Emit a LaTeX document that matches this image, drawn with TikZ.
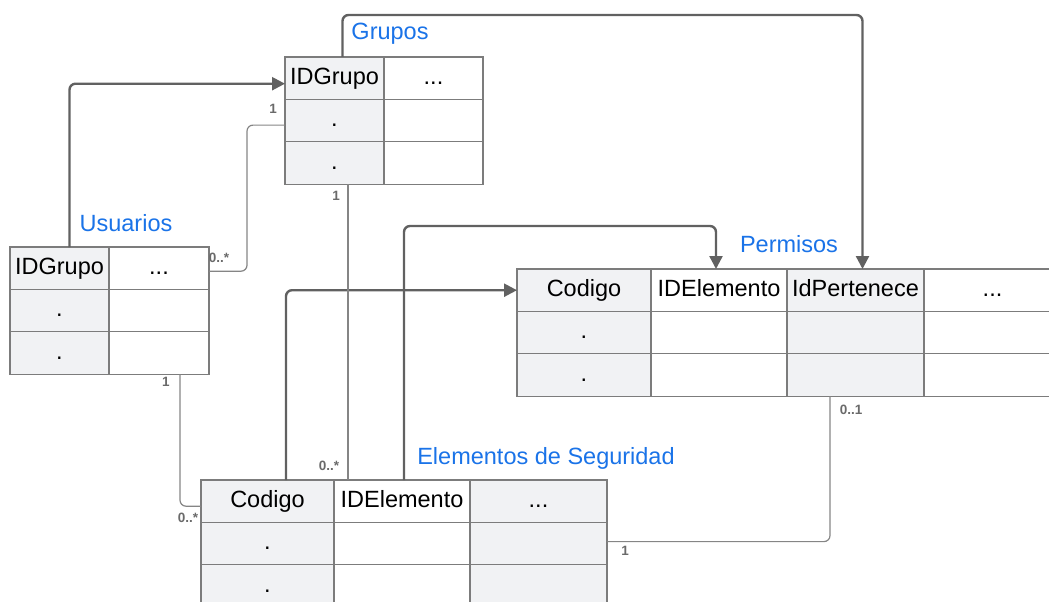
\documentclass[tikz,border=0pt]{standalone}
\usepackage{fontspec}
\setmainfont{Liberation Sans}
\usetikzlibrary{arrows.meta,calc}

\definecolor{cellgray}{HTML}{F1F2F4}
\definecolor{gridline}{HTML}{7C7C7C}
\definecolor{linkdark}{HTML}{616161}
\definecolor{linklight}{HTML}{858585}
\definecolor{titleblue}{HTML}{1A73E8}
\definecolor{cardgray}{HTML}{6A6A6A}

\tikzset{
  cell/.style={draw=gridline, line width=1.2pt, anchor=north west, inner sep=0pt,
    outer sep=0pt, fill=white, font=\fontsize{23.5}{27}\selectfont,
    text height=16.9pt, text depth=4.9pt, minimum height=42.4pt},
  key/.style={cell, fill=cellgray},
  wA/.style={minimum width=99pt},
  wB/.style={minimum width=100pt},
  wC/.style={minimum width=134pt},
  wD/.style={minimum width=136pt},
  wE/.style={minimum width=137pt},
  title/.style={text=titleblue, font=\fontsize{23.5}{27}\selectfont, inner sep=0pt},
  card/.style={text=cardgray, font=\bfseries\fontsize{13.5}{16}\selectfont, inner sep=0pt},
  fk/.style={draw=linkdark, line width=2.4pt, rounded corners=6pt,
    -{Triangle[length=13pt,width=13pt]}},
  rel/.style={draw=linklight, line width=1.2pt, rounded corners=6pt},
}

\begin{document}
\begin{tikzpicture}[x=1pt, y=-1pt]
\useasboundingbox (0,0) rectangle (1049,602);
\clip (0,0) rectangle (1049,602);

% Grupos
\node[key, wA]  (g11) at (285,57)    {IDGrupo};
\node[cell, wA] (g12) at (384,57)    {...};
\node[key, wA]  (g21) at (285,99.4)  {.};
\node[cell, wA] (g22) at (384,99.4)  {};
\node[key, wA]  (g31) at (285,141.8) {.};
\node[cell, wA] (g32) at (384,141.8) {};

% Usuarios
\node[key, wA]  (u11) at (10,247)    {IDGrupo};
\node[cell, wB] (u12) at (109,247)   {...};
\node[key, wA]  (u21) at (10,289.4)  {.};
\node[cell, wB] (u22) at (109,289.4) {};
\node[key, wA]  (u31) at (10,331.8)  {.};
\node[cell, wB] (u32) at (109,331.8) {};

% Permisos
\node[key, wC]  (p11) at (517,269)   {Codigo};
\node[cell, wD] (p12) at (651,269)   {IDElemento};
\node[key, wE]  (p13) at (787,269)   {IdPertenece};
\node[cell, wE] (p14) at (924,269)   {...};
\node[key, wC]  (p21) at (517,311.4) {.};
\node[cell, wD] (p22) at (651,311.4) {};
\node[key, wE]  (p23) at (787,311.4) {};
\node[cell, wE] (p24) at (924,311.4) {};
\node[key, wC]  (p31) at (517,353.8) {.};
\node[cell, wD] (p32) at (651,353.8) {};
\node[key, wE]  (p33) at (787,353.8) {};
\node[cell, wE] (p34) at (924,353.8) {};

% Elementos de Seguridad
\node[key, minimum width=133pt]  (e11) at (201,480)   {Codigo};
\node[cell, wD]                  (e12) at (334,480)   {IDElemento};
\node[key, wE]                   (e13) at (470,480)   {...};
\node[key, minimum width=133pt]  (e21) at (201,522.4) {.};
\node[cell, wD]                  (e22) at (334,522.4) {};
\node[key, wE]                   (e23) at (470,522.4) {};
\node[key, minimum width=133pt]  (e31) at (201,564.8) {.};
\node[cell, wD]                  (e32) at (334,564.8) {};
\node[key, wE]                   (e33) at (470,564.8) {};

% table titles
\node[title] (tg) at (390,34)  {Grupos};
\node[title] (tu) at (126,223) {Usuarios};
\node[title] (tp) at (789,244) {Permisos};
\node[title] (te) at (546,458) {Elementos de Seguridad};

% foreign-key arrows
\draw[fk] ($(u11.north)+(10,0)$) |- ($(g11.west)+(0,5.5)$);
\draw[fk] ($(g11.north)+(8,0)$) -- ++(0,-42) -| ($(p13.north)+(7,0)$);
\draw[fk] ($(e12.north)+(2,0)$) -- ++(0,-254) -| ($(p12.north)+(-3,0)$);
\draw[fk] ($(e11.north)+(18.5,0)$) |- (p11.west);

% relationship lines
\coordinate (r1a) at ($(g21.west)+(0,4.5)$);
\coordinate (r1b) at ($(u12.east)+(0,3)$);
\draw[rel] (r1a) -| ($(r1a)!.5!(r1b)$) |- (r1b);
\coordinate (r2a) at ($(g31.south)+(13.5,0)$);
\draw[rel] (r2a) -- (r2a |- e11.north);
\draw[rel] ($(u32.south)+(21,0)$) |- ($(e11.west)+(0,5)$);
\draw[rel] ($(e23.east)+(0,-2)$) -| ($(p33.south)+(-25.5,0)$);

% cardinalities
\node[card] (c1) at (273,109) {1};
\node[card] (c2) at (219,258) {0..*};
\node[card] (c3) at (336,196) {1};
\node[card] (c4) at (329,466) {0..*};
\node[card] (c5) at (166,382) {1};
\node[card] (c6) at (188,518) {0..*};
\node[card] (c7) at (625,551) {1};
\node[card] (c8) at (851,410) {0..1};
\end{tikzpicture}
\end{document}
